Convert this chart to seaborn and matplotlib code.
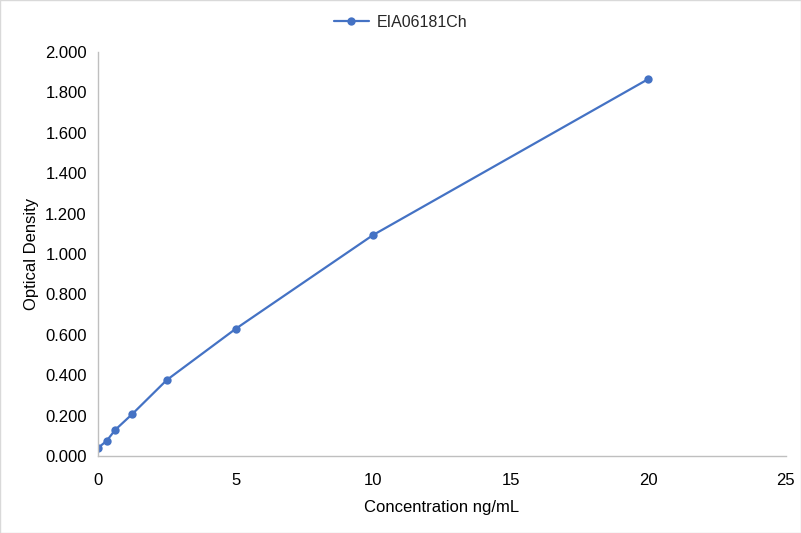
import matplotlib
matplotlib.use("Agg")
import matplotlib.pyplot as plt
import seaborn as sns
import pandas as pd

concentration = [0, 0.312, 0.625, 1.25, 2.5, 5, 10, 20]
optical_density = [0.040, 0.074, 0.129, 0.208, 0.376, 0.629, 1.094, 1.866]
series_name = "EIA06181Ch"

df = pd.DataFrame({"x": concentration, "y": optical_density})

sns.set_theme(style="white")
plt.rcParams['font.family'] = ['Liberation Sans', 'DejaVu Sans']

fig = plt.figure(figsize=(8.01, 5.33), dpi=100)
ax = fig.add_axes([0.1223, 0.1445, 0.8587, 0.7579])

sns.lineplot(data=df, x="x", y="y", ax=ax, color="#4472C4", marker="o",
             markersize=6, markeredgewidth=0, linewidth=1.6, label=series_name,
             legend=False)

ax.set_xlim(0, 25)
ax.set_ylim(0, 2.0)
ax.set_xticks([0, 5, 10, 15, 20, 25])
ax.set_yticks([i * 0.2 for i in range(11)])
ax.set_yticklabels([f"{i * 0.2:.3f}" for i in range(11)])
ax.tick_params(axis="both", labelsize=12, colors="black", length=0)
ax.tick_params(axis="y", pad=8)
ax.tick_params(axis="x", pad=12)

ax.set_xlabel("Concentration ng/mL", fontsize=12, color="black", labelpad=9)
ax.set_ylabel("Optical Density", fontsize=12, color="black", labelpad=4.5)

for side in ["top", "right"]:
    ax.spines[side].set_visible(False)
for side in ["left", "bottom"]:
    ax.spines[side].set_color("#BFBFBF")
    ax.spines[side].set_linewidth(1)

handles, labels = ax.get_legend_handles_labels()
fig.legend(handles, labels, loc="center", bbox_to_anchor=(0.5, 0.958),
           frameon=False, fontsize=11.5, handlelength=2.2, handletextpad=0.5)

fig.patches.append(plt.Rectangle((0, 0), 1, 1, transform=fig.transFigure,
                                 fill=False, edgecolor="#D9D9D9", linewidth=1))

fig.savefig("out.png", dpi=100)
